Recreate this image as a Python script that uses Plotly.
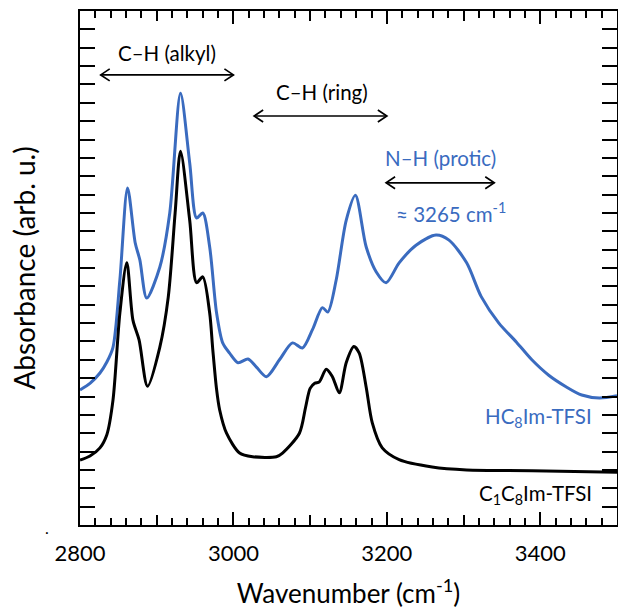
import plotly.graph_objects as go

# ---------------- data ----------------
wn_c1 = [2800, 2813, 2826, 2835, 2843, 2852, 2861, 2869, 2877, 2888, 2904, 2915,
         2924, 2931, 2943, 2952, 2960, 2969, 2973, 2978, 2982, 2991, 3008, 3025,
         3056, 3064, 3086, 3094, 3100, 3106, 3112, 3121, 3129, 3138, 3147, 3157,
         3164, 3173, 3181, 3194, 3216, 3259, 3304, 3389, 3500]
abs_c1 = [0.885, 0.94, 1.05, 1.23, 1.70, 2.89, 3.57, 2.79, 2.52, 1.89, 2.42, 3.10,
          4.25, 5.09, 4.15, 3.30, 3.38, 2.89, 2.40, 1.85, 1.57, 1.25, 0.98, 0.93,
          0.93, 0.98, 1.25, 1.60, 1.86, 1.93, 1.95, 2.12, 2.02, 1.80, 2.21, 2.43,
          2.34, 1.88, 1.39, 1.05, 0.89, 0.79, 0.75, 0.74, 0.72]

wn_hc = [2800, 2813, 2826, 2835, 2843, 2852, 2862, 2872, 2878, 2887, 2904, 2917,
         2931, 2943, 2952, 2960, 2969, 2978, 2986, 2995, 3006, 3019, 3030, 3043,
         3060, 3077, 3090, 3103, 3116, 3123, 3134, 3147, 3159, 3173, 3186, 3199,
         3216, 3238, 3264, 3281, 3304, 3323, 3346, 3369, 3389, 3411, 3434, 3454,
         3477, 3500]
abs_hc = [1.84, 1.93, 2.07, 2.22, 2.42, 3.34, 4.59, 3.84, 3.61, 3.09, 3.51, 4.25,
          5.88, 4.93, 4.18, 4.25, 3.79, 2.89, 2.48, 2.34, 2.21, 2.26, 2.15, 2.02,
          2.25, 2.48, 2.41, 2.66, 2.96, 2.90, 3.34, 4.15, 4.49, 3.79, 3.45, 3.30,
          3.57, 3.81, 3.95, 3.88, 3.57, 3.11, 2.75, 2.49, 2.25, 2.04, 1.88, 1.77,
          1.73, 1.76]

# band-region arrows: start, end, height
arrow_start = [2827, 3027, 3199]
arrow_end = [3000, 3200, 3340]
arrow_y = [6.13, 5.57, 4.66]

# labels
label_text = ["C–H (alkyl)", "C–H (ring)", "N–H (protic)", "≈ 3265 cm<sup>-1</sup>",
              "HC<sub>8</sub>Im-TFSI", "C<sub>1</sub>C<sub>8</sub>Im-TFSI"]
label_x = [2913, 3115, 3270, 3283, 3470, 3470]
label_y = [6.43, 5.90, 5.00, 4.26, 1.47, 0.41]

BLUE = "#3A6BBF"
FONT = "Lato"

# ---------------- layout geometry ----------------
W, H = 618, 612
ML, MR, MT, MB = 80, 1, 11, 87
XR = [2800, 3500]
YR = [0, 7]
PW = W - ML - MR
PH = H - MT - MB
px_x = PW / (XR[1] - XR[0])
px_y = PH / (YR[1] - YR[0])

fig = go.Figure()

fig.add_trace(go.Scatter(x=wn_hc, y=abs_hc, mode="lines",
                         line=dict(color=BLUE, width=3, shape="spline", smoothing=0.8),
                         hoverinfo="skip", showlegend=False))
fig.add_trace(go.Scatter(x=wn_c1, y=abs_c1, mode="lines",
                         line=dict(color="black", width=3, shape="spline", smoothing=0.8),
                         hoverinfo="skip", showlegend=False))

# double-headed arrows
hx = 9 / px_x
hy = 6 / px_y
for x0, x1, y in zip(arrow_start, arrow_end, arrow_y):
    xs = [x0, x1, None, x0 + hx, x0, x0 + hx, None, x1 - hx, x1, x1 - hx]
    ys = [y, y, None, y + hy, y, y - hy, None, y + hy, y, y - hy]
    fig.add_trace(go.Scatter(x=xs, y=ys, mode="lines",
                             line=dict(color="black", width=1.7),
                             hoverinfo="skip", showlegend=False))

# invisible traces so overlay axes are drawn
fig.add_trace(go.Scatter(x=XR, y=YR, xaxis="x2", mode="markers",
                         marker=dict(opacity=0), hoverinfo="skip", showlegend=False))
fig.add_trace(go.Scatter(x=XR, y=YR, xaxis="x3", mode="markers",
                         marker=dict(opacity=0), hoverinfo="skip", showlegend=False))

colors = ["black", "black", BLUE, BLUE, BLUE, "black"]
anchors = ["center", "center", "center", "center", "right", "right"]
for t, x, y, c, a in zip(label_text, label_x, label_y, colors, anchors):
    fig.add_annotation(x=x, y=y, text=t, showarrow=False, xanchor=a, yanchor="middle",
                       font=dict(family=FONT, size=20.5, color=c))

# stray dot in the lower-left corner of the reference
fig.add_annotation(x=(43 - ML) / PW, y=(H - MB - 527) / PH, xref="paper", yref="paper",
                   text=".", showarrow=False, yanchor="middle",
                   font=dict(family=FONT, size=16, color="black"))

common_tick = dict(ticks="inside", tickcolor="black", tickwidth=2)

fig.update_layout(
    width=W, height=H,
    margin=dict(l=ML, r=MR, t=MT, b=MB, autoexpand=False),
    paper_bgcolor="white", plot_bgcolor="white",
    font=dict(family=FONT, color="black"),
    xaxis=dict(range=XR, tick0=2800, dtick=200, ticklen=13, **common_tick,
               showline=True, linecolor="black", linewidth=2, mirror="allticks",
               showgrid=False, zeroline=False, automargin=False,
               minor=dict(dtick=20, ticklen=7, ticks="inside", tickcolor="black",
                          tickwidth=2, showgrid=False),
               tickfont=dict(family=FONT, size=22), ticklabelstandoff=8,
               title=dict(text="Wavenumber (cm<sup>-1</sup>)",
                          font=dict(family=FONT, size=26), standoff=19)),
    xaxis2=dict(range=XR, overlaying="x", anchor="y", side="bottom", tick0=2800,
                dtick=100, ticklen=10, **common_tick, showticklabels=False,
                showline=False, showgrid=False, zeroline=False, automargin=False),
    xaxis3=dict(range=XR, overlaying="x", anchor="y", side="top", tick0=2800,
                dtick=100, ticklen=10, **common_tick, showticklabels=False,
                showline=False, showgrid=False, zeroline=False, automargin=False),
    yaxis=dict(range=YR, tick0=0, dtick=1, ticklen=15, **common_tick,
               showline=True, linecolor="black", linewidth=2, mirror="allticks",
               showgrid=False, zeroline=False, showticklabels=False, automargin=False,
               minor=dict(dtick=0.25, ticklen=8, ticks="inside", tickcolor="black",
                          tickwidth=2, showgrid=False),
               title=dict(text="Absorbance (arb. u.)",
                          font=dict(family=FONT, size=28), standoff=34)),
)

fig.write_html("out.html",
               config={"displayModeBar": False},
               post_script="document.body.style.margin='0';"
                           "document.body.style.overflow='hidden';")
